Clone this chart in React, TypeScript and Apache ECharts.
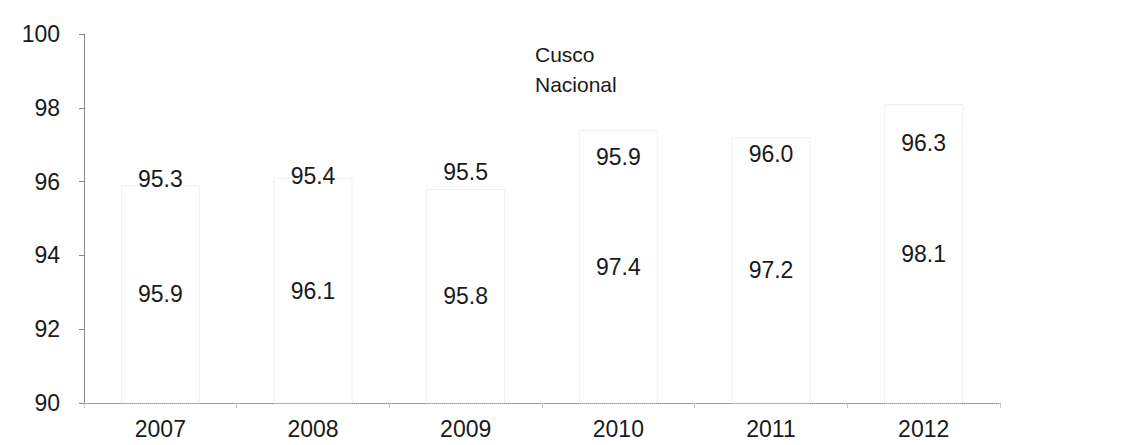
import React, { useEffect, useRef } from "react";
import * as echarts from "echarts";

const categories = ["2007", "2008", "2009", "2010", "2011", "2012"];
const cuscoValues = [95.3, 95.4, 95.5, 95.9, 96.0, 96.3];
const nacionalValues = [95.9, 96.1, 95.8, 97.4, 97.2, 98.1];
const seriesNames = ["Cusco", "Nacional"];

export default function App() {
  const ref = useRef<HTMLDivElement>(null);
  useEffect(() => {
    document.body.style.margin = "0";
    const chart = echarts.init(ref.current!, null, { renderer: "svg" });
    const font = "Liberation Sans, Arial, sans-serif";
    chart.setOption({
      animation: false,
      backgroundColor: "#ffffff",
      textStyle: { fontFamily: font },
      grid: { left: 84, right: 126, top: 34, bottom: 42 },
      legend: {
        orient: "vertical",
        left: 516,
        top: 39,
        itemWidth: 9,
        itemHeight: 9,
        itemGap: 9,
        icon: "rect",
        itemStyle: { color: "rgba(255,255,255,0)", borderWidth: 0 },
        data: seriesNames,
        textStyle: { fontSize: 21, color: "#1a1a1a", fontFamily: font },
      },
      xAxis: {
        type: "category",
        data: categories,
        axisLine: { show: true, lineStyle: { color: "#8a8a8a", width: 1, type: "dotted" } },
        axisTick: { show: true, length: 5, lineStyle: { color: "#c4c4c4" } },
        axisLabel: { fontSize: 23, color: "#1a1a1a", margin: 14, fontFamily: font },
      },
      yAxis: {
        type: "value",
        min: 90,
        max: 100,
        interval: 2,
        splitLine: { show: false },
        axisLine: { show: true, lineStyle: { color: "#8a8a8a", width: 1 } },
        axisTick: { show: true, length: 5, lineStyle: { color: "#8a8a8a" } },
        axisLabel: { fontSize: 23, color: "#1a1a1a", margin: 24, fontFamily: font },
      },
      series: [
        {
          name: seriesNames[0],
          type: "bar",
          data: cuscoValues,
          barWidth: 79,
          barGap: "-100%",
          itemStyle: { color: "rgba(255,255,255,0)", borderColor: "rgba(0,0,0,0)" },
          label: {
            show: true,
            position: "top",
            distance: 16,
            fontSize: 23,
            color: "#1a1a1a",
            fontFamily: font,
            formatter: (p: any) => p.value.toFixed(1),
          },
        },
        {
          name: seriesNames[1],
          type: "bar",
          data: nacionalValues,
          barWidth: 79,
          itemStyle: {
            color: "rgba(255,255,255,0)",
            borderColor: "#e2e2e2",
            borderWidth: 1,
            borderType: "dotted",
          },
          label: {
            show: true,
            position: "inside",
            fontSize: 23,
            color: "#1a1a1a",
            fontFamily: font,
            formatter: (p: any) => p.value.toFixed(1),
          },
        },
      ],
    });
    return () => chart.dispose();
  }, []);
  return <div ref={ref} style={{ width: 1126, height: 445 }} />;
}
